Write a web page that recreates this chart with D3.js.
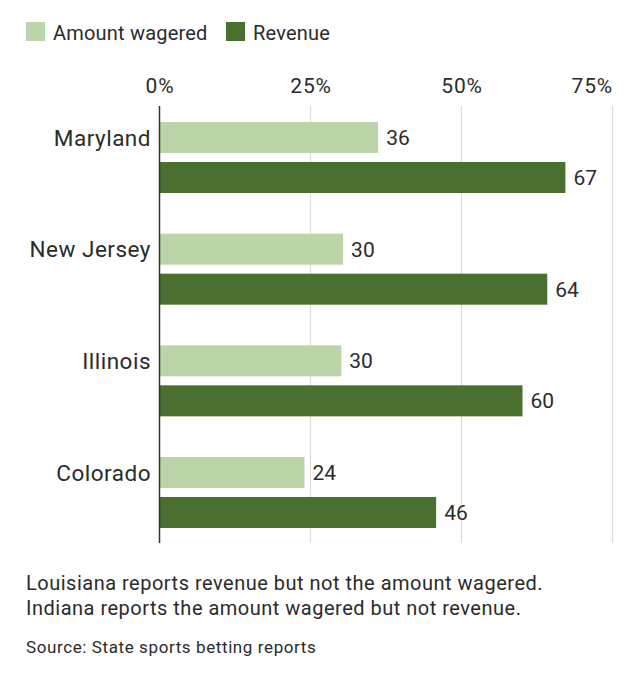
<!DOCTYPE html>
<html>
<head>
<meta charset="utf-8">
<script src="https://cdn.jsdelivr.net/npm/d3@7"></script>
<style>
    html, body { margin: 0; padding: 0; background: #fff; }
    svg { display: block; font-family: Roboto, "Noto Sans", sans-serif; }
    text { fill: #2b2b2b; }
</style>
</head>
<body>
<svg id="chart" width="641" height="680"></svg>
<script>
/***************************************************************
    Data
****************************************************************/
const states = ["Maryland", "New Jersey", "Illinois", "Colorado"];
const seriesNames = ["Amount wagered", "Revenue"];
const amountWagered = [36.2, 30.4, 30.1, 24.0];
const revenue = [67.2, 64.2, 60.1, 45.8];
const tickValues = [0, 25, 50, 75];
const noteLines = [
    "Louisiana reports revenue but not the amount wagered.",
    "Indiana reports the amount wagered but not revenue."
];
const sourceText = "Source: State sports betting reports";

const colors = { "Amount wagered": "#bbd5a9", "Revenue": "#49702e" };

/***************************************************************
    Chart
****************************************************************/
const svg = d3.select("#chart");

const x = d3.scaleLinear().domain([0, 75]).range([159.5, 612.5]);
const y = d3.scaleBand().domain(states).range([122, 122 + 4 * 111.67]);
const ySub = d3.scaleBand().domain(seriesNames).range([0, 71]).paddingInner(0.225);

const gridTop = 106, gridBottom = 543;

// gridlines
svg.append("g").selectAll("line").data(tickValues.filter(d => d > 0)).enter().append("line")
    .attr("x1", d => x(d)).attr("x2", d => x(d))
    .attr("y1", gridTop).attr("y2", gridBottom)
    .attr("stroke", "#dcdcdc").attr("stroke-width", 1.2);

// top tick labels, last one right-aligned to its gridline
const axis = svg.append("g").attr("transform", `translate(0,${gridTop})`)
    .call(d3.axisTop(x).tickValues(tickValues).tickFormat(d => d + "%").tickSize(0).tickPadding(13.5));
axis.select(".domain").remove();
axis.selectAll("text")
    .attr("font-size", 21).attr("letter-spacing", 0.8)
    .attr("fill", "#2b2b2b").attr("font-family", "Roboto, sans-serif")
    .attr("text-anchor", d => d === 75 ? "end" : "middle");

// rows
const rows = svg.append("g").selectAll("g").data(states).enter().append("g")
    .attr("transform", d => `translate(0,${y(d)})`);

rows.each(function (state, i) {
    const g = d3.select(this);
    const vals = [
        { key: "Amount wagered", value: amountWagered[i] },
        { key: "Revenue", value: revenue[i] }
    ];
    g.selectAll("rect").data(vals).enter().append("rect")
        .attr("x", x(0))
        .attr("y", d => ySub(d.key))
        .attr("width", d => x(d.value) - x(0))
        .attr("height", ySub.bandwidth())
        .attr("fill", d => colors[d.key]);

    g.selectAll("text.value").data(vals).enter().append("text")
        .attr("class", "value")
        .attr("x", d => x(d.value) + 8)
        .attr("y", d => ySub(d.key) + ySub.bandwidth() / 2)
        .attr("dy", "0.36em")
        .attr("font-size", 21)
        .text(d => d3.format(".0f")(d.value));

    g.append("text")
        .attr("x", 151)
        .attr("y", ySub("Amount wagered") + ySub.bandwidth() / 2)
        .attr("dy", "0.37em")
        .attr("text-anchor", "end")
        .attr("font-size", 22.5)
        .attr("letter-spacing", 0.5)
        .text(state);
});

// axis line at 0
svg.append("line")
    .attr("x1", x(0)).attr("x2", x(0))
    .attr("y1", gridTop).attr("y2", gridBottom)
    .attr("stroke", "#333").attr("stroke-width", 1.5);

// legend
const legendX = [26, 226];
const legend = svg.append("g").selectAll("g").data(seriesNames).enter().append("g")
    .attr("transform", (d, i) => `translate(${legendX[i]},22)`);
legend.append("rect").attr("width", 19).attr("height", 19).attr("fill", d => colors[d]);
legend.append("text").attr("x", 27).attr("y", 17.5)
    .attr("font-size", 20).attr("letter-spacing", 0.2).text(d => d);

// notes
svg.append("g").selectAll("text").data(noteLines).enter().append("text")
    .attr("x", 26).attr("y", (d, i) => 590 + i * 25)
    .attr("font-size", 20).attr("letter-spacing", 0.5)
    .text(d => d);

svg.append("text").attr("x", 26).attr("y", 653)
    .attr("font-size", 17).attr("letter-spacing", 0.6).attr("fill", "#333")
    .text(sourceText);
</script>
</body>
</html>
